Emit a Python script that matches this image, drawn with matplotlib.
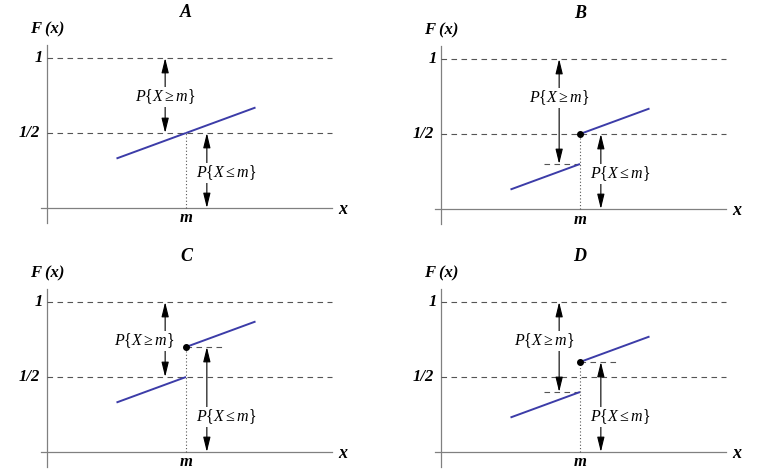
import matplotlib.pyplot as plt

plt.rcParams.update({"font.family": "serif",
                     "font.serif": ["Liberation Serif", "DejaVu Serif"],
                     "mathtext.fontset": "custom",
                     "mathtext.it": "Liberation Serif:italic",
                     "mathtext.rm": "Liberation Serif"})

# panel data: m = 1, slope of F around m, jump values at m
panels = ["A", "B", "C", "D"]
slope = 0.34
left_end = [0.50, 0.30, 0.50, 0.40]     # F(m-) : value of lower piece at m
right_start = [0.50, 0.50, 0.70, 0.60]  # F(m)  : value of upper piece at m
upper_lab_x = [0.85, 0.85, 0.70, 0.74]
m = 1.0
xa, xb = 0.5, 1.5

BLUE = "#3c3ca8"
GREY = "#808080"
W, H = 763, 472
origins = [(47, 208), (441, 209), (47, 452), (441, 452)]
sx, sy = 139.0, 150.0

fig = plt.figure(figsize=(W / 100, H / 100), dpi=100)

for name, lo, hi, ulx, (ox, oy) in zip(panels, left_end, right_start, upper_lab_x, origins):
    # axes region in pixels -> data limits with fixed scale
    xl, xr = -45 / sx, 310 / sx
    yb, yt = -18 / sy, 205 / sy
    left = (ox - 45) / W
    bottom = (H - (oy + 18)) / H
    ax = fig.add_axes([left, bottom, 355 / W, 223 / H])
    ax.set_xlim(xl, xr)
    ax.set_ylim(yb, yt)
    ax.axis("off")

    # coordinate axes
    ax.plot([-0.043, 2.05], [0, 0], color=GREY, lw=0.9)
    ax.plot([0, 0], [-0.10, 1.087], color=GREY, lw=0.9, clip_on=False)
    for yv in (1.0, 0.5):
        ax.plot([0, 2.05], [yv, yv], color="#555555", lw=0.8, ls=(0, (5, 4)))

    # F(x) pieces
    ax.plot([xa, m], [lo - slope * (m - xa), lo], color=BLUE, lw=1.4, solid_capstyle="butt", zorder=3)
    ax.plot([m, xb], [hi, hi + slope * (xb - m)], color=BLUE, lw=1.4, solid_capstyle="butt", zorder=3)
    if hi != lo:
        ax.plot([m], [hi], "o", color="black", ms=4, zorder=4)
    if lo < 0.5:
        ax.plot([0.74, m], [lo, lo], color="#555555", lw=0.8, ls=(0, (5, 4)))
    if hi > 0.5:
        ax.plot([m, 1.26], [hi, hi], color="#555555", lw=0.8, ls=(0, (5, 4)))
    ax.plot([m, m], [0, max(hi, lo)], color="#555555", lw=0.8, ls=(0, (1, 2)))

    # arrows
    arr = dict(arrowstyle="<|-|>,head_length=0.9,head_width=0.22", color="black", lw=0.8,
               mutation_scale=10, shrinkA=0, shrinkB=0)
    ax.annotate("", xy=(0.85, 1.0), xytext=(0.85, lo), arrowprops=arr)
    ax.annotate("", xy=(1.15, hi), xytext=(1.15, 0.0), arrowprops=arr)
    box = dict(fc="white", ec="none", pad=0.5)
    ax.text(ulx, 0.74, r"$P\{X\geq m\}$", ha="center", va="center", fontsize=11.5, bbox=box, zorder=5)
    ax.text(1.075, 0.235, r"$P\{X\leq m\}$", ha="left", va="center", fontsize=11.5, bbox=box, zorder=5)

    # labels
    bi = dict(fontstyle="italic", fontweight="bold")
    ax.text(1.0, 1.305, name, ha="center", va="center", fontsize=13, **bi)
    ax.text(0.0, 1.19, "F (x)", ha="center", va="center", fontsize=12, **bi)
    ax.text(-0.03, 1.0, "1", ha="right", va="center", fontsize=12, **bi)
    ax.text(-0.05, 0.5, "1/2", ha="right", va="center", fontsize=12, **bi)
    ax.text(2.13, -0.01, "x", ha="center", va="center", fontsize=13, **bi)
    ax.text(m, -0.07, "m", ha="center", va="center", fontsize=12, **bi)

fig.savefig("out.png", dpi=100)
